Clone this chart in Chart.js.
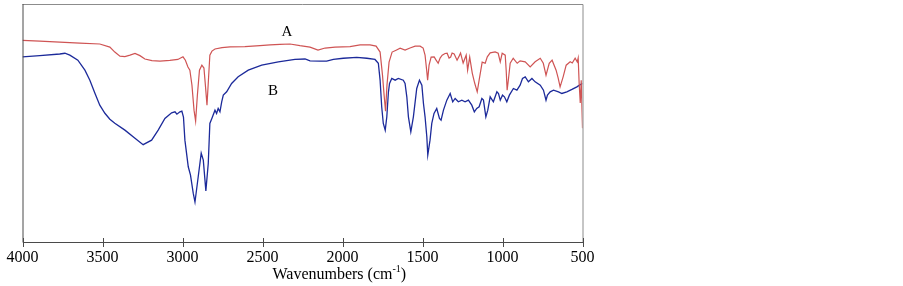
<!DOCTYPE html>
<html>
<head>
<meta charset="utf-8">
<script src="https://cdn.jsdelivr.net/npm/chart.js@4.4.0/dist/chart.umd.min.js"></script>
<style>
  body { margin: 0; background: #fff; }
  #box { position: relative; width: 903px; height: 286px; }
</style>
</head>
<body>
<div id="box"><canvas id="grafico"></canvas></div>
<script>
// wavenumbers (cm-1) and transmittance (%)
const numeroOndaA = [4000, 3892, 3767, 3642, 3517, 3454, 3423, 3391, 3360, 3328, 3297, 3266, 3235, 3191, 3141, 3079, 3029, 2997, 2982, 2966, 2954, 2941, 2928, 2918, 2907, 2894, 2879, 2866, 2857, 2847, 2838, 2829, 2816, 2797, 2753, 2703, 2610, 2516, 2453, 2391, 2328, 2266, 2203, 2153, 2109, 2047, 1953, 1890, 1828, 1790, 1765, 1750, 1740, 1731, 1722, 1709, 1690, 1665, 1640, 1609, 1578, 1546, 1515, 1496, 1484, 1474, 1468, 1459, 1446, 1427, 1415, 1402, 1390, 1377, 1359, 1346, 1334, 1324, 1315, 1302, 1284, 1271, 1262, 1246, 1227, 1218, 1205, 1189, 1174, 1158, 1146, 1127, 1108, 1095, 1077, 1046, 1027, 1014, 1002, 983, 977, 971, 962, 952, 933, 908, 890, 858, 827, 796, 764, 745, 728, 708, 690, 665, 652, 640, 621, 602, 577, 564, 546, 533, 527, 521, 514, 508, 500];
const transmitA = [84.7, 84.4, 84.0, 83.6, 83.2, 81.9, 79.8, 78.1, 77.9, 78.5, 79.2, 78.3, 76.9, 76.2, 76.0, 76.3, 76.7, 77.8, 76.4, 73.5, 72.2, 65.9, 55.4, 50.8, 61.7, 72.2, 74.3, 73.1, 65.9, 57.5, 68.0, 78.5, 80.2, 81.1, 81.7, 82.0, 82.1, 82.5, 82.8, 83.0, 83.2, 82.5, 81.9, 80.6, 81.5, 81.9, 82.1, 82.8, 82.8, 82.3, 79.8, 70.1, 61.7, 55.0, 65.9, 75.6, 79.8, 80.6, 81.4, 80.6, 81.5, 82.3, 82.3, 81.5, 78.5, 72.2, 68.0, 74.3, 77.7, 77.8, 76.4, 75.1, 77.3, 78.5, 79.2, 79.3, 77.3, 77.7, 79.4, 79.0, 76.4, 78.1, 79.4, 75.2, 78.5, 72.2, 77.7, 71.0, 66.8, 63.1, 68.0, 75.6, 75.1, 77.8, 79.5, 79.9, 79.3, 75.7, 79.3, 78.5, 72.2, 63.8, 68.9, 75.1, 77.2, 75.1, 76.1, 75.7, 73.6, 75.7, 77.2, 75.1, 70.1, 75.1, 76.4, 72.2, 68.9, 65.2, 69.4, 74.3, 75.7, 75.2, 77.2, 75.7, 77.3, 66.8, 58.4, 68.0, 47.8];

const numeroOndaB = [4000, 3892, 3767, 3735, 3704, 3654, 3610, 3579, 3548, 3517, 3485, 3454, 3423, 3360, 3297, 3246, 3193, 3152, 3110, 3068, 3047, 3035, 3016, 3004, 2994, 2985, 2964, 2950, 2933, 2922, 2902, 2883, 2870, 2854, 2839, 2829, 2816, 2797, 2787, 2777, 2766, 2755, 2745, 2724, 2693, 2652, 2589, 2505, 2401, 2297, 2234, 2203, 2141, 2099, 2057, 1995, 1911, 1848, 1797, 1776, 1765, 1755, 1745, 1733, 1723, 1713, 1706, 1692, 1671, 1651, 1620, 1609, 1598, 1588, 1573, 1557, 1536, 1519, 1504, 1494, 1484, 1473, 1467, 1453, 1442, 1428, 1411, 1394, 1384, 1369, 1348, 1327, 1311, 1296, 1276, 1254, 1234, 1213, 1192, 1176, 1161, 1146, 1129, 1119, 1104, 1092, 1077, 1057, 1035, 1025, 1014, 1000, 988, 973, 957, 932, 910, 890, 875, 858, 838, 816, 796, 764, 744, 728, 719, 702, 681, 650, 629, 598, 566, 535, 519, 500];
const transmitB = [77.8, 78.3, 79.0, 79.3, 78.5, 76.4, 72.2, 68.0, 62.6, 57.5, 54.1, 51.6, 49.9, 47.0, 43.6, 40.9, 42.8, 47.0, 51.9, 54.3, 54.7, 53.7, 54.7, 55.0, 52.5, 42.8, 31.6, 28.1, 20.5, 16.8, 27.3, 37.3, 34.4, 21.5, 33.0, 49.8, 52.0, 55.4, 54.0, 56.1, 54.7, 58.9, 61.7, 63.1, 66.6, 69.4, 72.2, 74.3, 75.7, 76.7, 76.9, 76.1, 76.0, 76.0, 76.7, 77.2, 77.6, 77.2, 76.7, 75.1, 68.0, 56.8, 49.8, 47.0, 52.6, 63.0, 66.6, 68.7, 68.0, 68.7, 68.0, 66.6, 61.0, 52.6, 46.3, 52.6, 64.5, 68.0, 65.9, 58.2, 52.6, 44.2, 36.5, 42.8, 49.8, 54.0, 56.1, 51.9, 51.2, 55.4, 59.6, 62.4, 58.9, 60.3, 58.9, 59.6, 58.9, 59.6, 57.5, 54.7, 56.1, 56.8, 60.3, 59.6, 52.6, 55.4, 61.0, 58.9, 63.1, 62.4, 59.6, 61.7, 61.0, 58.9, 61.7, 64.5, 63.8, 65.9, 68.7, 69.4, 67.3, 68.7, 67.3, 65.9, 63.8, 59.6, 61.7, 63.1, 63.8, 63.1, 62.4, 63.1, 64.1, 65.2, 65.9, 66.6];

const ticksX = [4000, 3500, 3000, 2500, 2000, 1500, 1000, 500];
const rotulos = [{ texto: 'A', x: 2347, y: 88.2 }, { texto: 'B', x: 2434, y: 63.4 }];

const fonte = '"Liberation Serif", "Times New Roman", serif';

const pontos = (xs, ys) => xs.map((x, i) => ({ x: x, y: ys[i] }));

// moldura, marcas internas, rotulos A/B e titulo do eixo
const moldura = {
  id: 'moldura',
  afterDraw(chart) {
    const c = chart.ctx;
    const a = chart.chartArea;
    const sx = chart.scales.x;
    const sy = chart.scales.y;
    c.save();
    c.lineWidth = 1;
    c.strokeStyle = '#8c8c8c';
    c.beginPath();
    c.moveTo(a.left, a.top + 0.5);
    c.lineTo(a.right + 0.5, a.top + 0.5);
    c.lineTo(a.right + 0.5, a.bottom);
    c.stroke();
    c.strokeStyle = '#4a4a4a';
    c.beginPath();
    c.moveTo(a.left + 0.5, a.top);
    c.lineTo(a.left + 0.5, a.bottom + 0.5);
    c.lineTo(a.right + 0.5, a.bottom + 0.5);
    c.stroke();
    // ticks cruzando o eixo
    ticksX.forEach(t => {
      const px = Math.round(sx.getPixelForValue(t)) + 0.5;
      c.beginPath();
      c.moveTo(px, a.bottom - 4);
      c.lineTo(px, a.bottom + 5);
      c.stroke();
    });
    c.fillStyle = '#000';
    c.font = '15px ' + fonte;
    c.textAlign = 'center';
    c.textBaseline = 'middle';
    rotulos.forEach(r => {
      c.fillText(r.texto, sx.getPixelForValue(r.x), sy.getPixelForValue(r.y));
    });
    // titulo com sobrescrito
    const parte1 = 'Wavenumbers (cm';
    const sup = '-1';
    const parte2 = ')';
    c.font = '16px ' + fonte;
    const w1 = c.measureText(parte1).width;
    const w3 = c.measureText(parte2).width;
    c.font = '10px ' + fonte;
    const w2 = c.measureText(sup).width;
    const total = w1 + w2 + w3;
    let x0 = sx.getPixelForValue(2020) - total / 2;
    const yb = 279;
    c.textAlign = 'left';
    c.textBaseline = 'alphabetic';
    c.font = '16px ' + fonte;
    c.fillText(parte1, x0, yb);
    c.font = '10px ' + fonte;
    c.fillText(sup, x0 + w1, yb - 7);
    c.font = '16px ' + fonte;
    c.fillText(parte2, x0 + w1 + w2, yb);
    c.restore();
  }
};

new Chart(document.getElementById('grafico'), {
  type: 'line',
  data: {
    datasets: [
      {
        label: 'A',
        data: pontos(numeroOndaA, transmitA),
        borderColor: '#cf5454',
        borderWidth: 1.2,
        pointRadius: 0,
        tension: 0
      },
      {
        label: 'B',
        data: pontos(numeroOndaB, transmitB),
        borderColor: '#1c2a9a',
        borderWidth: 1.3,
        pointRadius: 0,
        tension: 0
      }
    ]
  },
  options: {
    responsive: true,
    maintainAspectRatio: false,
    animation: false,
    layout: { padding: { left: 22.5, right: 320.5, top: 4, bottom: 0 } },
    plugins: { legend: { display: false }, tooltip: { enabled: false } },
    scales: {
      x: {
        type: 'linear',
        reverse: true,
        min: 500,
        max: 4000,
        afterBuildTicks: s => { s.ticks = ticksX.map(v => ({ value: v })); },
        afterFit: s => { s.height = 44; },
        border: { display: false },
        grid: { display: false },
        ticks: {
          color: '#000',
          font: { family: fonte, size: 16 },
          padding: -2,
          maxRotation: 0,
          autoSkip: false,
          callback: v => String(v)
        }
      },
      y: {
        display: false,
        min: 0,
        max: 100
      }
    }
  },
  plugins: [moldura]
});
</script>
</body>
</html>
